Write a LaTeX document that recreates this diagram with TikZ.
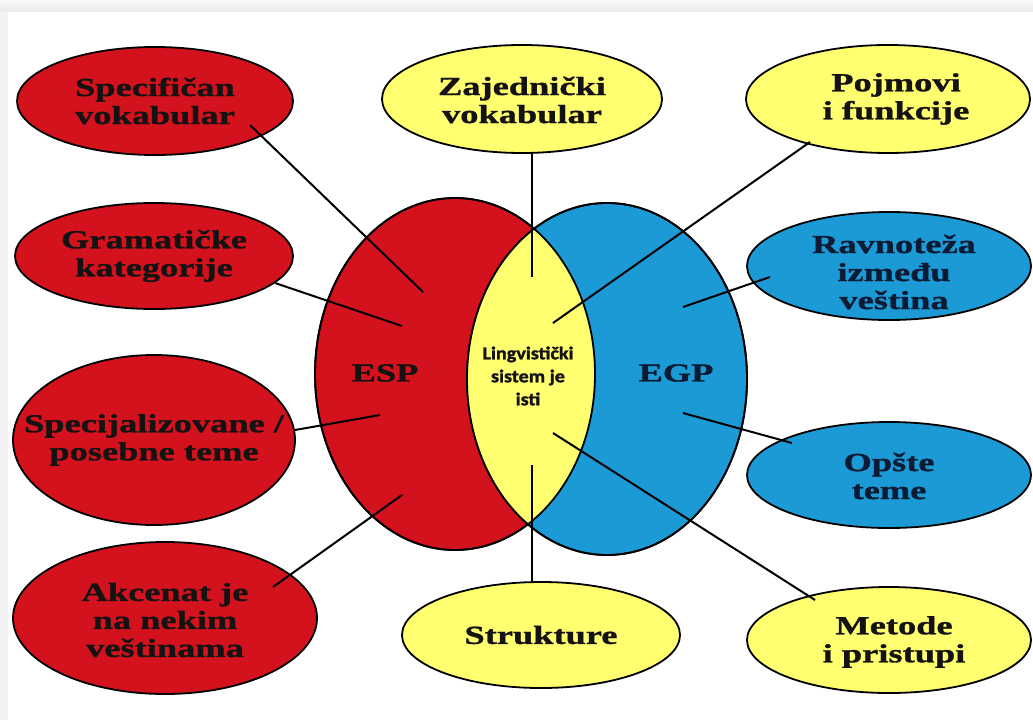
\documentclass[tikz,border=0pt]{standalone}
\usepackage{fontspec}
\usetikzlibrary{shapes.geometric}
\newfontfamily\lblfont[FakeStretch=1.4, FakeBold=1.2]{Liberation Serif}
\newfontfamily\midfont[FakeStretch=1.12, FakeBold=1.5]{Carlito}
\definecolor{espred}{HTML}{D3121E}
\definecolor{egpblue}{HTML}{1C9AD6}
\definecolor{paleyel}{HTML}{FFFF70}
\definecolor{inkdark}{HTML}{141212}
\definecolor{inknavy}{HTML}{0B1B33}
\definecolor{framegray}{HTML}{F2F2F2}
\tikzset{
  oval/.style={ellipse, draw=black, line width=1.8pt, inner sep=0pt},
  redoval/.style={oval, fill=espred},
  bluoval/.style={oval, fill=egpblue},
  yeloval/.style={oval, fill=paleyel},
  lbl/.style={align=center, inner sep=0pt, text=inkdark,
    font=\lblfont\bfseries\fontsize{26}{28}\selectfont},
  navylbl/.style={lbl, text=inknavy},
  midlbl/.style={align=center, inner sep=0pt, text=inkdark,
    font=\midfont\bfseries\fontsize{18}{23}\selectfont},
  link/.style={draw=black, line width=2pt},
}
\begin{document}
\begin{tikzpicture}[x=1pt, y=-1pt]
\useasboundingbox (0,0) rectangle (1033,720);
% page frame
\fill[white] (0,0) rectangle (1033,720);
\fill[framegray] (0,0) rectangle (8,720);
\shade[top color=gray!6, bottom color=gray!16] (0,0) rectangle (1033,11);

% outer ovals
\node[redoval, minimum width=276, minimum height=108] (spec) at (155,101) {};
\node[redoval, minimum width=278, minimum height=106] (gram) at (154,256) {};
\node[redoval, minimum width=282, minimum height=170] (specij) at (154,440) {};
\node[redoval, minimum width=304, minimum height=152] (akc) at (165,618) {};
\node[yeloval, minimum width=280, minimum height=108] (zaj) at (522,99) {};
\node[yeloval, minimum width=278, minimum height=106] (stru) at (541,635) {};
\node[yeloval, minimum width=284, minimum height=108] (pojm) at (888,99) {};
\node[bluoval, minimum width=284, minimum height=108] (ravn) at (889,266) {};
\node[bluoval, minimum width=284, minimum height=106] (opst) at (889,475) {};
\node[yeloval, minimum width=284, minimum height=106] (meto) at (889,640) {};

% central Venn pair
\node[redoval, minimum width=280, minimum height=352] (esp) at (455,374) {};
\node[bluoval, minimum width=280, minimum height=352] (egp) at (607,379) {};
\begin{scope}
  \clip (esp.center) ellipse [x radius=140, y radius=176];
  \fill[paleyel] (egp.center) ellipse [x radius=140, y radius=176];
\end{scope}
\draw[line width=1.8pt] (esp.center) ellipse [x radius=140, y radius=176];
\draw[line width=1.8pt] (egp.center) ellipse [x radius=140, y radius=176];
\coordinate (lens) at (532,374);

% texts
\node[lbl] (spec-t) at (spec) {Specifičan\\vokabular};
\node[lbl] (gram-t) at (gram) {Gramatičke\\kategorije};
\node[lbl] (specij-t) at (specij) {Specijalizovane /\\posebne teme};
\node[lbl] (akc-t) at (165,620) {Akcenat je\\na nekim\\veštinama};
\node[lbl] (zaj-t) at (522,100) {Zajednički\\vokabular};
\node[lbl] (stru-t) at (stru) {Strukture};
\node[lbl] (pojm-t) at (896,99) {Pojmovi\\i funkcije};
\node[navylbl] (ravn-t) at (894,272) {Ravnoteža\\između\\veština};
\node[navylbl] (opst-t) at (889,476) {Opšte\\teme};
\node[lbl] (meto-t) at (894,642) {Metode\\i pristupi};
\node[lbl] (esp-t) at (385,373) {ESP};
\node[navylbl] (egp-t) at (676,373) {EGP};
\node[midlbl] (lens-t) at (528,376) {Lingvistički\\sistem je\\isti};

% connectors
\draw[link] ([shift={(95,24)}]spec.center) -- ([shift={(-32,-82)}]esp.center);
\draw[link] ([shift={(121,27)}]gram.center) -- ([shift={(-53,-48)}]esp.center);
\draw[link] ([shift={(141,-10)}]specij.center) -- ([shift={(-75,41)}]esp.center);
\draw[link] ([shift={(108,-31)}]akc.center) -- ([shift={(-53,121)}]esp.center);
\draw[link] ([shift={(10,54)}]zaj.center) -- ([shift={(0,-97)}]lens);
\draw[link] ([shift={(0,91)}]lens) -- ([shift={(-9,-53)}]stru.center);
\draw[link] ([shift={(-78,43)}]pojm.center) -- ([shift={(21,-51)}]lens);
\draw[link] ([shift={(-119,11)}]ravn.center) -- ([shift={(76,-72)}]egp.center);
\draw[link] ([shift={(76,34)}]egp.center) -- ([shift={(-97,-32)}]opst.center);
\draw[link] ([shift={(21,59)}]lens) -- ([shift={(-74,-40)}]meto.center);
\end{tikzpicture}
\end{document}
